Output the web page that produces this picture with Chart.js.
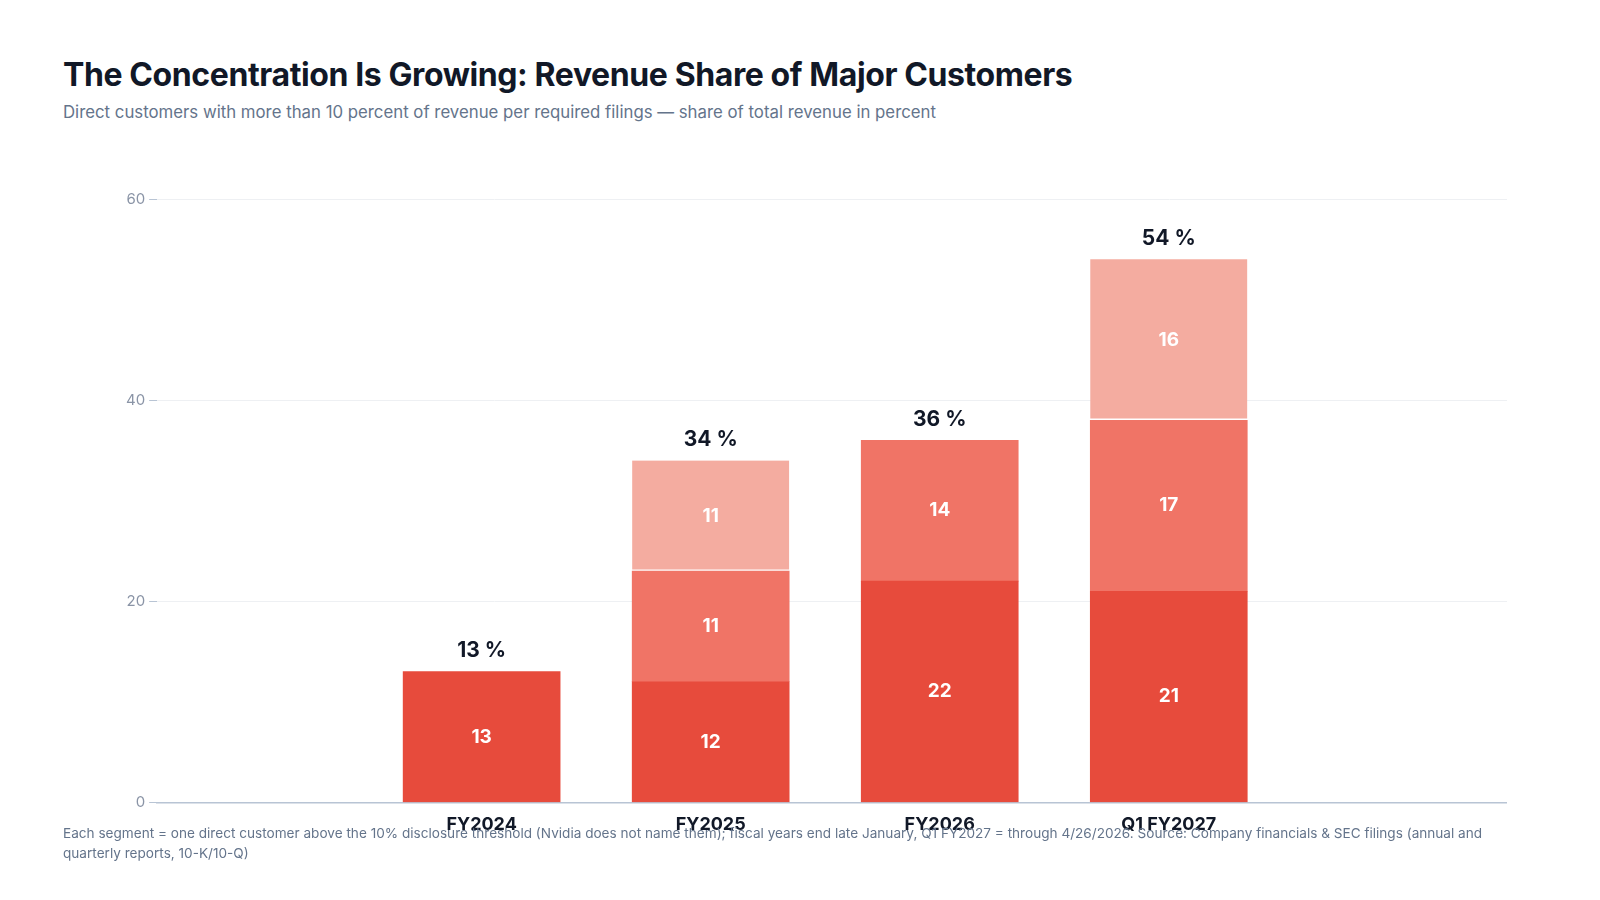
<!DOCTYPE html>
<html>
<head>
<meta charset="utf-8">
<script src="https://cdn.jsdelivr.net/npm/chart.js@4/dist/chart.umd.min.js"></script>
<style>
  body { margin: 0; background: #fff; font-family: Inter, "Noto Sans", sans-serif; }
  #title { position: absolute; left: 63px; top: 55px; font-size: 32px; font-weight: 700; color: #111827; letter-spacing: -0.4px; }
  #subtitle { position: absolute; left: 63px; top: 102px; font-size: 16.8px; color: #64748b; }
  #wrap { position: absolute; left: 122px; top: 186px; width: 1385px; height: 652px; }
  #note { position: absolute; left: 63px; top: 823px; width: 1420px; font-size: 13.6px; line-height: 20px; color: #64748b; }
</style>
</head>
<body>
<div id="title">The Concentration Is Growing: Revenue Share of Major Customers</div>
<div id="subtitle">Direct customers with more than 10 percent of revenue per required filings — share of total revenue in percent</div>
<div id="wrap"><canvas id="chart"></canvas></div>
<div id="note">Each segment = one direct customer above the 10% disclosure threshold (Nvidia does not name them); fiscal years end late January, Q1 FY2027 = through 4/26/2026. Source: Company financials &amp; SEC filings (annual and quarterly reports, 10-K/10-Q)</div>
<script>
// periods and customer shares (percent of revenue)
const periods = ["FY2024", "FY2025", "FY2026", "Q1 FY2027"];
const customerA = [13, 12, 22, 21];
const customerB = [null, 11, 14, 17];
const customerC = [null, 11, null, 16];
const totals = [13, 34, 36, 54];

// draws segment values inside bars and totals above
const labelPlugin = {
  id: "labels",
  afterDatasetsDraw(chart) {
    const ctx = chart.ctx;
    ctx.save();
    ctx.textAlign = "center";
    ctx.textBaseline = "middle";
    chart.data.datasets.forEach((ds, di) => {
      chart.getDatasetMeta(di).data.forEach((bar, i) => {
        if (ds.data[i] == null) return;
        ctx.fillStyle = "#ffffff";
        ctx.font = "700 19px Inter";
        ctx.fillText(ds.data[i], bar.x, (bar.y + bar.base) / 2);
      });
    });
    const x = chart.scales.x, y = chart.scales.y;
    totals.forEach((t, i) => {
      ctx.fillStyle = "#111827";
      ctx.font = "700 21px Inter";
      ctx.fillText(t + " %", x.getPixelForValue(i), y.getPixelForValue(t) - 21);
    });
    ctx.restore();
  }
};

new Chart(document.getElementById("chart"), {
  type: "bar",
  data: {
    labels: periods.map((p, i) => i),
    datasets: [
      { label: "Customer 1", data: customerA, backgroundColor: "#e74b3c" },
      { label: "Customer 2", data: customerB, backgroundColor: "#f07466" },
      { label: "Customer 3", data: customerC, backgroundColor: "#f4aca0",
        borderColor: "#ffffff", borderWidth: { bottom: 2 }, borderSkipped: false }
    ]
  },
  options: {
    responsive: true,
    maintainAspectRatio: false,
    animation: false,
    datasets: { bar: { barThickness: 157 } },
    plugins: { legend: { display: false }, tooltip: { enabled: false } },
    scales: {
      x: {
        type: "linear",
        stacked: true,
        min: -0.68,
        max: 3.74,
        grid: { display: false },
        border: { color: "#b8c4d4", width: 1.5 },
        afterBuildTicks: (s) => { s.ticks = periods.map((p, i) => ({ value: i })); },
        ticks: {
          color: "#111827",
          font: { family: "Inter", size: 18, weight: "700" },
          callback: (v) => periods[v] || ""
        }
      },
      y: {
        stacked: true,
        min: 0,
        max: 60,
        grid: { color: "#eef0f3", drawTicks: true, tickLength: 8, tickColor: "#b8c4d4" },
        border: { display: false },
        ticks: { stepSize: 20, color: "#8a94a6", font: { family: "Inter", size: 15 }, padding: 4 }
      }
    }
  },
  plugins: [labelPlugin]
});
</script>
</body>
</html>
